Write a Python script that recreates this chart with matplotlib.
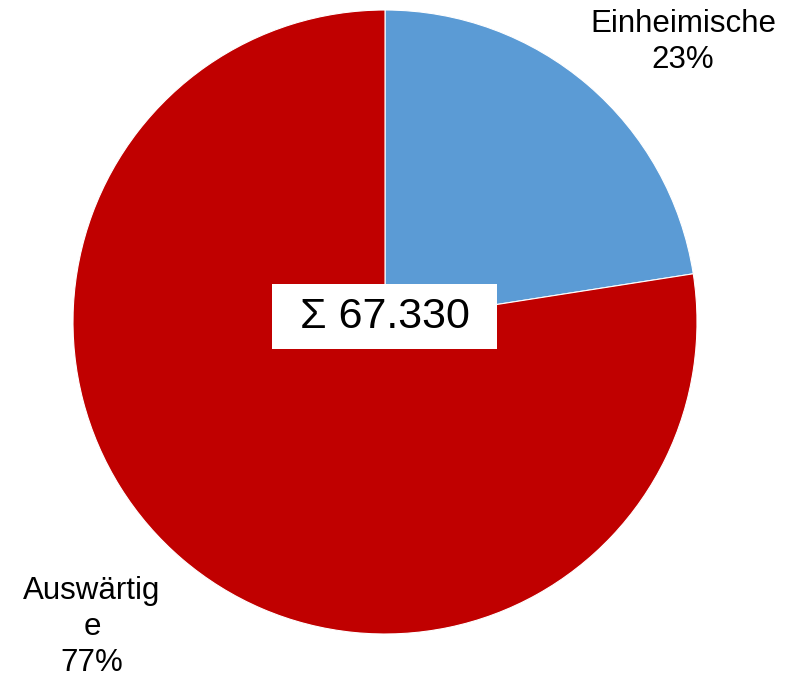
import matplotlib as mpl
mpl.use('Agg')
import matplotlib.pyplot as plt
from matplotlib.patches import Rectangle

plt.rcParams['font.family'] = ['Liberation Sans', 'DejaVu Sans']

labels = ['Einheimische', 'Auswärtige']
values = [15170, 52160]
colors = ['#5b9bd5', '#c00000']
total = sum(values)
shares = [round(100 * v / total) for v in values]

W, H = 787, 681
fig = plt.figure(figsize=(W / 100, H / 100), dpi=100)
ax = fig.add_axes([0, 0, 1, 1])

# pie drawn clockwise from 12 o'clock, in pixel-like coordinates
ax.pie(values, colors=colors, startangle=90, counterclock=False,
       center=(385, -322), radius=312,
       wedgeprops=dict(linewidth=0.8, edgecolor='white'))
ax.set_xlim(0, W)
ax.set_ylim(-H, 0)
ax.set_aspect('equal')
ax.set_axis_off()

ax.text(683, -42, f'{labels[0]}\n{shares[0]}%', ha='center', va='center',
        fontsize=22.5, linespacing=1.3)
ax.text(92, -627, 'Auswärtig\ne\n' + f'{shares[1]}%', ha='center', va='center',
        fontsize=22.5, linespacing=1.28)

# white box behind the total
ax.add_patch(Rectangle((272, -349), 225, 65, facecolor='white',
                       edgecolor='none', zorder=3))
total_str = f'{total:,}'.replace(',', '.')
ax.text(385, -317, f'Σ {total_str}', ha='center', va='center', fontsize=31,
        zorder=4)

plt.savefig('out.png', dpi=100, facecolor='w')
